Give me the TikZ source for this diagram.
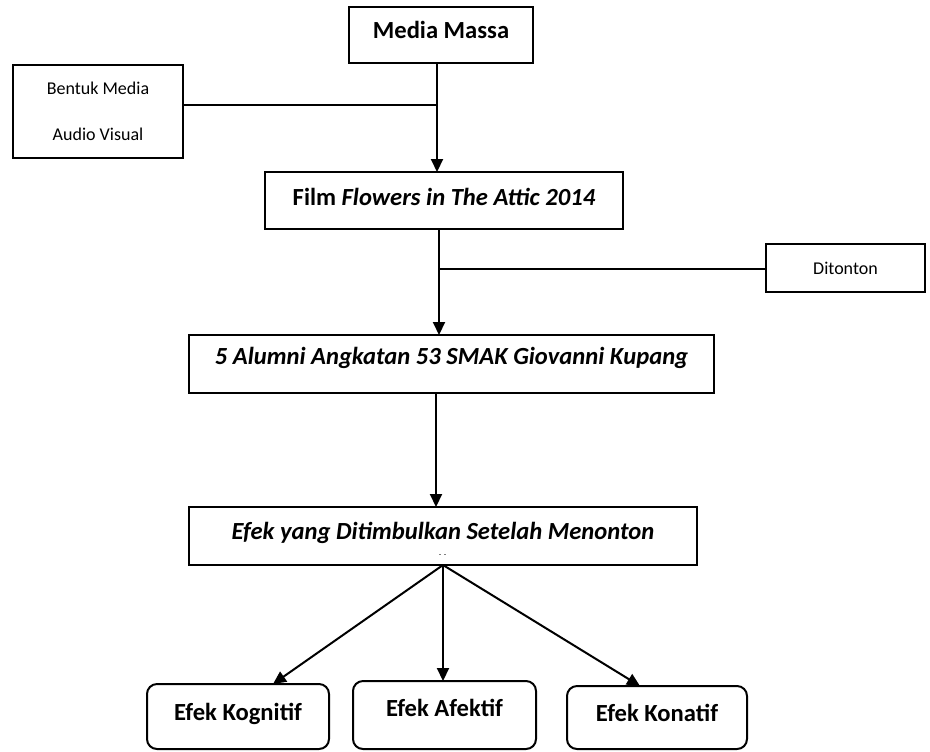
\documentclass[tikz,border=0pt]{standalone}
\usepackage{fontspec}
\setmainfont{Carlito}
\usetikzlibrary{arrows.meta}
\begin{document}
\begin{tikzpicture}[x=0.5pt,y=-0.5pt,
  box/.style={draw, line width=1pt, rectangle, inner sep=0pt, outer sep=0pt},
  rbox/.style={box, rounded corners=5pt},
  big/.style={font=\fontsize{12.3}{14.8}\selectfont\bfseries},
  small/.style={font=\fontsize{9}{23}\selectfont},
  lift/.style={text height=9pt, text depth=#1},
  arr/.style={line width=1pt, -{Triangle[width=6pt,length=6.5pt]}},
  branch/.style={line width=0.6pt}]
\useasboundingbox (0,0) rectangle (930,751);

% nodes
\node[box,big,minimum width=92pt,minimum height=28pt,lift=5.2pt] (mm) at (441,35) {Media Massa};
\node[box,small,align=center,minimum width=85pt,minimum height=46.5pt] (bentuk) at (98,111.5) {Bentuk Media\\Audio Visual};
\node[box,big,minimum width=179pt,minimum height=28.5pt,lift=3.7pt] (film) at (444,200.5) {Film \textit{Flowers in The Attic 2014}};
\node[box,small,minimum width=79.5pt,minimum height=24pt] (dit) at (845.5,268) {Ditonton};
\node[box,big,minimum width=262.5pt,minimum height=29pt,lift=8.2pt] (alum) at (451.5,364) {\textit{5 Alumni Angkatan 53 SMAK Giovanni Kupang}};
\node[box,big,minimum width=254pt,minimum height=29pt,lift=5.2pt] (efek) at (443,536) {\textit{Efek yang Ditimbulkan Setelah Menonton}};
\node[rbox,big,minimum width=91pt,minimum height=32.5pt,lift=4.7pt] (kog) at (238,716.5) {Efek Kognitif};
\node[rbox,big,minimum width=91.5pt,minimum height=34pt,lift=7.2pt] (afe) at (444.5,715) {Efek Afektif};
\node[rbox,big,minimum width=90pt,minimum height=31.5pt,lift=4.7pt] (kon) at (657,717.5) {Efek Konatif};

% helper coordinates
\coordinate (t1) at (437,0);
\coordinate (j1) at (437,105);
\coordinate (t2) at (439,0);
\coordinate (j2) at (439,269);
\coordinate (t3) at (436,0);
\coordinate (fan) at (443,565);
\coordinate (kt) at (273,0);
\coordinate (at) at (443,0);
\coordinate (nt) at (640,0);

% connectors
\draw[arr] (mm.south -| t1) -- (film.north -| t1);
\draw[branch] (bentuk.east |- j1) -- (j1);
\draw[arr] (film.south -| t2) -- (alum.north -| t2);
\draw[branch] (j2) -- (dit.west |- j2);
\draw[arr] (alum.south -| t3) -- (efek.north -| t3);
\draw[arr] (fan) -- (kog.north -| kt);
\draw[arr] (fan) -- (afe.north -| at);
\draw[arr] (fan) -- (kon.north -| nt);

% small mark inside the Efek box
\draw[line width=0.5pt, gray] (439,554) -- (441,554) (444,554) -- (446,554);
\end{tikzpicture}
\end{document}
